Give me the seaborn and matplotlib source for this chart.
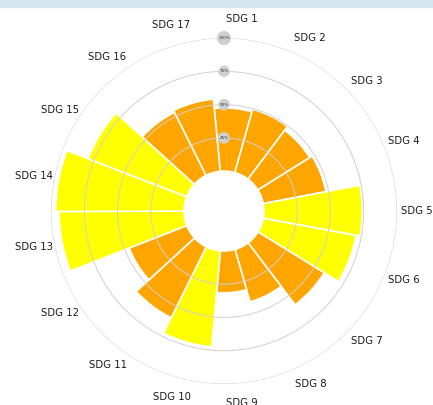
import numpy as np
import pandas as pd
import matplotlib
matplotlib.use('Agg')
import matplotlib.pyplot as plt
from matplotlib.patches import Rectangle
import seaborn as sns

# SDG scores (percent)
goals = [f'SDG {i}' for i in range(1, 18)]
scores = [47.5, 49.5, 46, 48, 74, 71, 58.5, 41, 31.5, 72.5, 59.5, 46.5, 94, 96.5, 79.5, 53, 54.5]
r_ticks = [25, 50, 75, 100]
r_labels = ['25%', '50%', '75%', '100%']
high_cut = 65

sns.set_style('white')
plt.rcParams['font.family'] = ['DejaVu Sans']

df = pd.DataFrame({'goal': goals, 'score': scores})
n = len(df)
step = 2 * np.pi / n
df['angle'] = 0.09 + step * np.arange(n)
palette = {False: 'orange', True: 'yellow'}
df['color'] = (df['score'] >= high_cut).map(palette)

fig = plt.figure(figsize=(4.33, 4.05), dpi=100)
# light blue strip at the very top (page background in the reference)
fig.add_artist(Rectangle((0, 1 - 7 / 405), 1, 7 / 405, transform=fig.transFigure,
                         color='#d6e6f0', zorder=0))

ax = fig.add_axes([0.1178, 0.0519, 0.799, 0.854], projection='polar')
ax.set_theta_offset(np.pi / 2)
ax.set_theta_direction(-1)

ax.bar(df['angle'], df['score'], width=step, bottom=0, color=df['color'],
       edgecolor='white', linewidth=1.2)

ax.set_ylim(-30, 100)
ax.set_yticks(r_ticks)
ax.set_yticklabels([])
ax.set_xticks(df['angle'])
ax.set_xticklabels(df['goal'], fontsize=7.3, color='#1a1a1a')
ax.tick_params(axis='x', pad=7.5, length=0)
ax.tick_params(axis='y', length=0)
ax.xaxis.grid(False)
ax.yaxis.grid(True, color='#d0d0d0', linewidth=0.7)
ax.spines['polar'].set_visible(False)
ax.set_axisbelow(False)

for r, lab in zip(r_ticks, r_labels):
    ax.text(0, r, lab, ha='center', va='center', fontsize=3, color='#333333',
            bbox=dict(boxstyle='circle', fc='#d0d0d0', ec='none'), zorder=5)

fig.savefig('out.png', dpi=100)
